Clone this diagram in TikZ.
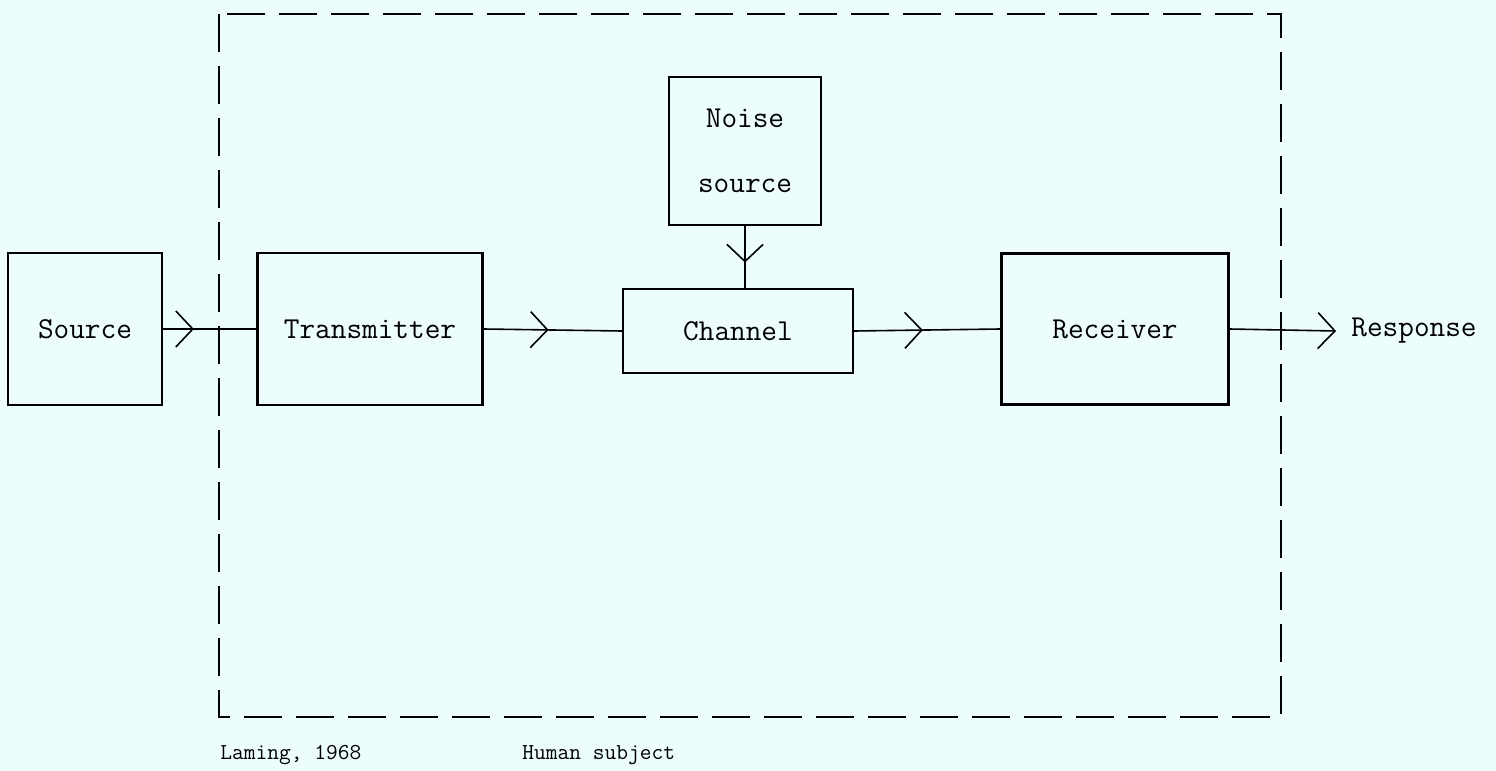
\documentclass[tikz,border=0pt]{standalone}
\usepackage{fontspec}
\usetikzlibrary{arrows.meta,positioning,decorations.markings}
\definecolor{paper}{RGB}{237,252,252}

\begin{document}
\begin{tikzpicture}[
  x=0.5pt, y=-0.5pt,
  font=\ttfamily\fontsize{15.2}{18}\selectfont,
  block/.style={draw, line width=1.1pt, align=center, inner sep=0pt},
  flow/.style={draw, line width=0.8pt, decoration={markings,
      mark=at position #1 with {\arrow{Straight Barb[length=8.5pt, width=18pt, line width=0.8pt]}}},
    postaction={decorate}},
  flowend/.style={draw, line width=0.8pt, -{Straight Barb[length=8.5pt, width=18pt, line width=0.8pt]}},
  dashbox/.style={draw, line width=1.3pt, dash pattern=on 19pt off 7pt},
  caption/.style={anchor=west, inner sep=0pt, font=\ttfamily\fontsize{11.4}{13}\selectfont}
]

\fill[paper] (0,0) rectangle (1496,771);
\useasboundingbox (0,0) rectangle (1496,771);

\coordinate (hs nw) at (219,14);
\coordinate (hs se) at (1281,717);
\draw[dashbox] (hs nw) rectangle (hs se);

\node[block, minimum width=77pt, minimum height=76pt] (source) at (85,329) {Source};
\node[block, minimum width=112.5pt, minimum height=76pt] (transmitter) at (370,329) {Transmitter};
\node[block, minimum width=115pt, minimum height=42pt] (channel) at (738,331) {Channel};
\node[block, minimum width=76pt, minimum height=74pt, font=\ttfamily\fontsize{15.2}{32.5}\selectfont]
  (noise) at (745,151) {Noise\\source};
\node[block, minimum width=113.5pt, minimum height=75.5pt] (receiver) at (1115,329) {Receiver};
\node[anchor=west, inner sep=7.5pt] (response) at (1336,331) {Response};

\draw[flow=0.33] (source.east) -- (transmitter.west);
\draw[flow=0.47] (transmitter.east) -- (channel.west);
\draw[flow=0.47] (channel.east) -- (receiver.west);
\draw[flow=0.59] (noise.south) -- (noise.south |- channel.north);
\draw[flowend] (receiver.east) -- (response.west);

\node[caption] (laming) at (220,755) {Laming, 1968};
\node[caption] (subject) at (522,755) {Human subject};

\end{tikzpicture}
\end{document}
